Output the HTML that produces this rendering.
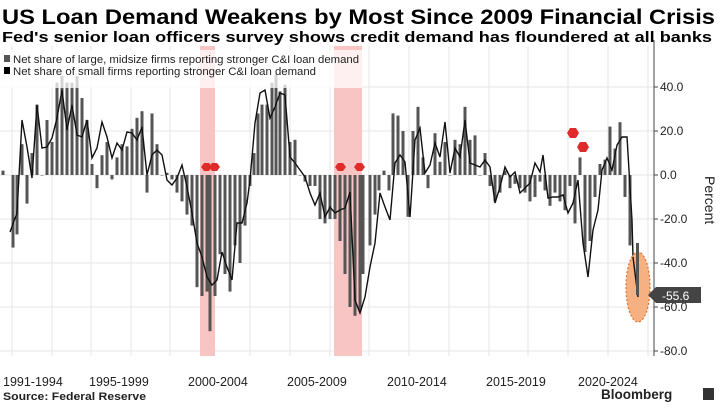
<!DOCTYPE html>
<html><head><meta charset="utf-8"><style>
body{margin:0;width:720px;height:404px;background:#fff;overflow:hidden;font-family:"Liberation Sans",sans-serif}
</style></head><body>
<svg id="s" width="720" height="404" xmlns="http://www.w3.org/2000/svg" font-family="Liberation Sans, sans-serif">
<text x="2" y="24" font-size="21.5" font-weight="bold" fill="#000" textLength="713" lengthAdjust="spacingAndGlyphs">US Loan Demand Weakens by Most Since 2009 Financial Crisis</text>
<text x="2" y="42" font-size="14.5" font-weight="bold" fill="#000" textLength="710" lengthAdjust="spacingAndGlyphs">Fed's senior loan officers survey shows credit demand has floundered at all banks</text>
<g id="grid" stroke="#e6e6e6" stroke-width="1"></g>
<rect x="200" y="46" width="15" height="310" fill="#f9c4c4"/>
<rect x="334" y="46" width="28" height="310" fill="#f9c4c4"/>
<g id="bars" fill="#555"></g>
<polyline id="line" fill="none" stroke="#111" stroke-width="1.4"/>
<ellipse cx="638" cy="287" rx="12" ry="35" fill="#f6b183" stroke="#e07020" stroke-dasharray="2,2" stroke-width="1.2"/>
<polyline points="633,257 638,297" stroke="#111" stroke-width="1.4" fill="none"/>
<rect x="636" y="243" width="3" height="52" fill="#555"/>
<g fill="#e02b2b">
<polygon points="201,167 204,163 209,163 212,167 209,171 204,171"/>
<polygon points="209,167 212,163 217,163 220,167 217,171 212,171"/>
<polygon points="335,167 338,163 343,163 346,167 343,171 338,171"/>
<polygon points="354,167 357,163 362,163 365,167 362,171 357,171"/>
<polygon points="567,133 570,128 576,128 579,133 576,138 570,138"/>
<polygon points="577,147 580,142 586,142 589,147 586,152 580,152"/>
</g>
<rect x="0" y="50" width="362" height="38" fill="#fff" fill-opacity="0.75"/>
<rect x="4" y="55" width="6" height="7" fill="#555"/>
<text x="13" y="63" font-size="11" fill="#222" textLength="346" lengthAdjust="spacingAndGlyphs">Net share of large, midsize firms reporting stronger C&amp;I loan demand</text>
<rect x="4" y="67" width="6" height="7" fill="#000"/>
<text x="13" y="75" font-size="11" fill="#222" textLength="303" lengthAdjust="spacingAndGlyphs">Net share of small firms reporting stronger C&amp;I loan demand</text>
<line x1="654" y1="40" x2="654" y2="356" stroke="#444"/>
<g id="yt" font-size="12" fill="#222"></g>
<polygon points="648,295 656,287 701,287 701,303 656,303" fill="#444"/>
<text x="662" y="300" font-size="12" fill="#fff">-55.6</text>
<text transform="translate(705,176) rotate(90)" font-size="14" fill="#222">Percent</text>
<g font-size="12.5" fill="#222">
<text x="3" y="386">1991-1994</text><text x="89" y="386">1995-1999</text><text x="188" y="386">2000-2004</text>
<text x="287" y="386">2005-2009</text><text x="387" y="386">2010-2014</text><text x="486" y="386">2015-2019</text><text x="578" y="386">2020-2024</text>
</g>
<text x="3" y="400" font-size="11" font-weight="bold" fill="#222" textLength="143" lengthAdjust="spacingAndGlyphs">Source: Federal Reserve</text>
<text x="601" y="399" font-size="13.5" font-weight="bold" fill="#222">Bloomberg</text>
<rect x="703" y="388" width="11" height="12" fill="#333"/>
</svg>
<script>
var ns="http://www.w3.org/2000/svg";
function el(p,t,a){var e=document.createElementNS(ns,t);for(var k in a)e.setAttribute(k,a[k]);p.appendChild(e);return e;}
var g=document.getElementById('grid');
[87,131,175,219,263,307,351].forEach(function(y){el(g,'line',{x1:0,x2:654,y1:y,y2:y});});
[12,52,91,131,170,210,250,290,330,369,409,449,489,528,568,608,648].forEach(function(x){el(g,'line',{x1:x,x2:x,y1:46,y2:356});});
var yt=document.getElementById('yt');
[[40,87],[20,131],[0,175],[-20,219],[-40,263],[-60,307],[-80,351]].forEach(function(v){
el(yt,'line',{x1:654,x2:658,y1:v[1],y2:v[1],stroke:'#444'});
var t=el(yt,'text',{x:660,y:v[1]+4});t.textContent=v[0].toFixed(1);});
var b=[[3,2],[13,-33],[17,-27],[22,14],[27,-13],[32,10],[37,32],[42,0],[47,25],[52,15],[57,42],[62,45],[67,42],[72,42],[77,45],[82,35],[87,25],[92,5],[97,-6],[102,9],[107,15],[112,-2],[117,8],[122,14],[127,13],[132,21],[137,26],[142,29],[147,-8],[152,28],[157,14],[162,0],[167,1],[172,-2],[177,-8],[182,-12],[187,-18],[192,-23],[197,-51],[202,-55],[207,-53],[210,-71],[215,-55],[220,-36],[225,-45],[230,-53],[235,-32],[240,-40],[245,-23],[250,-5],[254,10],[258,28],[262,32],[267,32],[272,42],[276,46],[280,38],[285,41],[290,15],[295,16],[300,0],[305,-3],[310,-5],[315,-5],[320,-20],[325,-22],[330,-20],[335,-20],[340,-30],[345,-45],[350,-60],[355,-64],[360,-62],[363,-45],[370,-32],[375,-18],[379,-7],[384,2],[389,-7],[393,28],[398,27],[403,20],[408,-19],[413,20],[418,31],[423,8],[428,-6],[435,19],[440,6],[445,15],[450,0],[455,16],[460,14],[465,31],[470,16],[475,18],[480,0],[485,10],[490,-5],[495,-12],[500,-8],[505,2],[510,-6],[515,-4],[520,-6],[525,-8],[530,-12],[535,-10],[540,-3],[545,-7],[550,-14],[555,-8],[560,-12],[565,-16],[570,-5],[575,-22],[580,8],[585,-35],[590,-30],[595,-10],[600,5],[605,7],[610,22],[615,12],[620,24],[625,-10],[630,-32]];
var bg=document.getElementById('bars');
b.forEach(function(d){var y0=175,y1=175-d[1]*2.2;el(bg,'rect',{x:d[0]-1.5,width:3,y:Math.min(y0,y1),height:Math.max(0.5,Math.abs(y1-y0))});});
var L=[[10,232],[17,213],[22,120],[27,147],[32,178],[37,105],[42,148],[47,147],[52,138],[57,118],[62,90],[67,130],[72,105],[77,135],[82,137],[87,120],[92,158],[97,148],[102,122],[107,137],[112,158],[117,143],[122,150],[127,132],[132,133],[137,140],[142,127],[147,175],[152,155],[157,150],[162,155],[167,180],[172,185],[177,178],[182,165],[187,187],[192,213],[197,243],[202,257],[207,277],[212,285],[217,280],[222,252],[227,267],[232,280],[237,223],[242,223],[247,203],[250,180],[255,123],[260,93],[265,90],[270,118],[275,107],[280,93],[285,95],[290,157],[295,163],[300,170],[305,177],[310,193],[315,205],[320,193],[325,217],[330,207],[335,213],[340,210],[345,208],[350,192],[355,300],[360,313],[365,297],[370,267],[375,243],[380,193],[385,207],[390,220],[395,163],[400,155],[405,162],[410,217],[415,140],[420,128],[425,173],[430,165],[435,143],[440,157],[445,122],[450,173],[455,148],[460,157],[465,120],[470,163],[475,165],[480,167],[485,160],[490,167],[495,203],[500,187],[505,167],[510,177],[515,172],[520,193],[525,188],[530,183],[535,163],[540,172],[543,155],[548,198],[553,197],[558,197],[563,195],[568,213],[573,203],[578,180],[583,243],[588,277],[593,230],[598,210],[602,170],[607,158],[612,170],[617,145],[622,137],[627,137],[632,220],[633,257]];
document.getElementById('line').setAttribute('points',L.map(function(p){return p.join(',');}).join(' '));
</script>
</body></html>
